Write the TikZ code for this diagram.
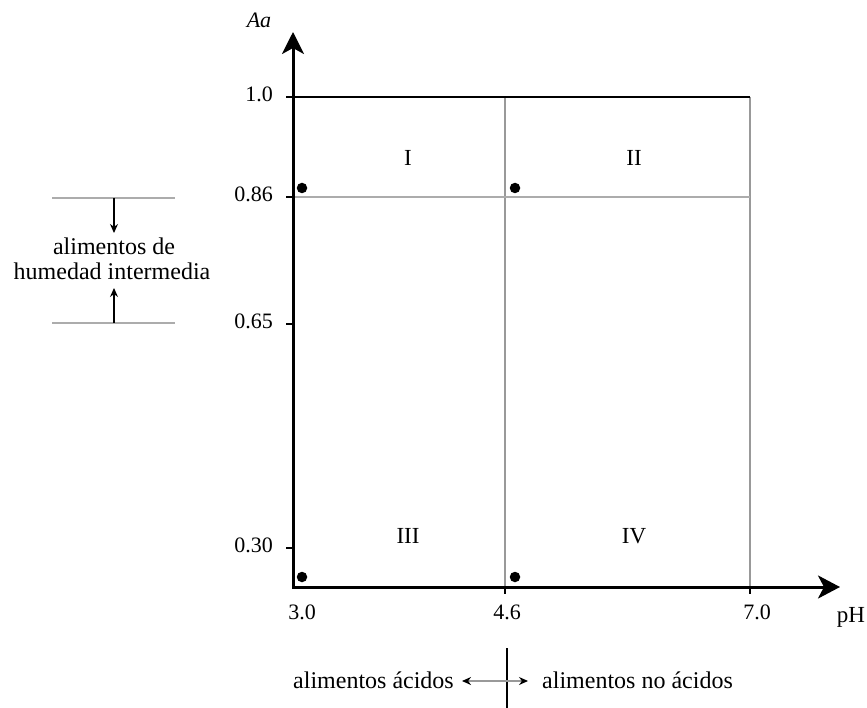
\documentclass[tikz,border=0pt]{standalone}
\usepackage{fontspec}
\setmainfont{Liberation Serif}
\usetikzlibrary{arrows.meta}
\begin{document}
\begin{tikzpicture}[x=1pt,y=-1pt,
  axisline/.style={line width=3pt,{Stealth[length=22pt,width=22pt,inset=6pt]}-{Stealth[length=22pt,width=23pt,inset=6pt]}},
  gridline/.style={draw=gray!80,line width=1.3pt},
  zoneline/.style={draw=gray!65,line width=2.4pt},
  tickmark/.style={line width=2.6pt},
  dotmark/.style={circle,fill=black,inner sep=0pt,minimum size=10.5pt},
  numlab/.style={font=\fontsize{22}{26}\selectfont,inner sep=0pt},
  roman/.style={font=\fontsize{23}{27}\selectfont,inner sep=0pt},
  annot/.style={font=\fontsize{24}{28}\selectfont,inner sep=0pt},
  smallarrow/.style={line width=1.3pt,-{Stealth[length=9pt,width=8pt]}}]
\useasboundingbox (0,0) rectangle (867,708);

% grid lines
\coordinate (c10l) at (293,97);
\coordinate (c10r) at (750,97);
\coordinate (c86l) at (293,197);
\coordinate (c86r) at (750,197);
\coordinate (v46t) at (505,97);
\coordinate (v46b) at (505,587);
\coordinate (v70b) at (750,587);
\draw[gridline] (c10r) -- (v70b);
\draw[gridline] (v46t) -- (v46b);
\draw[zoneline] (c86l) -- (c86r);
\draw[line width=1.3pt] (c10l) -- (c10r);

% axes
\coordinate (O) at (293,587);
\coordinate (ytip) at (293,32);
\coordinate (xtip) at (840,587);
\draw[axisline] (ytip) -- (O) -- (xtip);

% y ticks
\foreach \yy/\lbl/\nm in {97/1.0/ya,197/0.86/yb,324/0.65/yc,548/0.30/yd}{
  \coordinate (\nm t) at (286,\yy);
  \coordinate (\nm a) at (293,\yy);
  \draw[tickmark] (\nm t) -- (\nm a);
  \node[numlab,anchor=east] (\nm l) at (273,\yy-3) {\lbl};
}
% x ticks
\foreach \xx/\nm in {505/xb,750/xc}{
  \coordinate (\nm t) at (\xx,594);
  \coordinate (\nm a) at (\xx,587);
  \draw[tickmark] (\nm a) -- (\nm t);
}
\node[numlab] (xal) at (302,612) {3.0};
\node[numlab] (xbl) at (507,612) {4.6};
\node[numlab] (xcl) at (757,612) {7.0};
\node[numlab,font=\fontsize{23}{27}\selectfont] (phl) at (851,617) {pH};
\node[numlab,font=\fontsize{22}{26}\selectfont\itshape] (aal) at (259,20) {Aa};

% region labels
\node[roman] (r1) at (408,158) {I};
\node[roman] (r2) at (634,158) {II};
\node[roman] (r3) at (408,536) {III};
\node[roman] (r4) at (634,536) {IV};

% dots
\node[dotmark] (d1) at (302,188) {};
\node[dotmark] (d2) at (515,188) {};
\node[dotmark] (d3) at (302,577) {};
\node[dotmark] (d4) at (515,577) {};

% left annotation
\coordinate (lt1) at (52,198);
\coordinate (lt2) at (175,198);
\coordinate (lb1) at (52,323);
\coordinate (lb2) at (175,323);
\draw[zoneline] (lt1) -- (lt2);
\draw[zoneline] (lb1) -- (lb2);
\node[annot,anchor=base] (hum1) at (114,255) {alimentos de};
\node[annot,anchor=base] (hum2) at (112,280) {humedad intermedia};
\coordinate (ad0) at (114,198);
\coordinate (ad1) at (114,233);
\coordinate (au0) at (114,323);
\coordinate (au1) at (114,288);
\draw[smallarrow] (ad0) -- (ad1);
\draw[smallarrow] (au0) -- (au1);

% bottom annotation
\coordinate (bv1) at (507,648);
\coordinate (bv2) at (507,708);
\draw[line width=1.4pt] (bv1) -- (bv2);
\node[annot,anchor=east] (acid) at (454,680) {alimentos ácidos};
\node[annot,anchor=west] (noacid) at (542,680) {alimentos no ácidos};
\coordinate (ba1) at (462,681);
\coordinate (ba2) at (528,681);
\draw[draw=gray!80,line width=1.4pt,{Stealth[length=9pt,width=8pt,color=black]}-{Stealth[length=9pt,width=8pt,color=black]}] (ba1) -- (ba2);
\end{tikzpicture}
\end{document}
